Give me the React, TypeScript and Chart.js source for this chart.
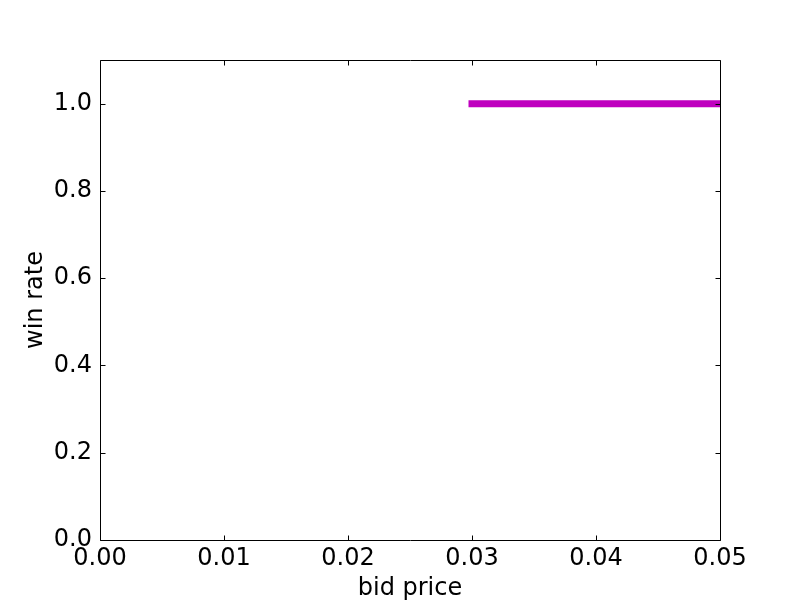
import React, { useEffect, useRef } from "react";
import { Chart, registerables } from "chart.js";

Chart.register(...registerables);

const xValues = [0.03, 0.05];
const yValues = [1.0, 1.0];
const xTicks = [0, 0.01, 0.02, 0.03, 0.04, 0.05];
const yTicks = [0, 0.2, 0.4, 0.6, 0.8, 1.0];
const xLabel = "bid price";
const yLabel = "win rate";

const FONT = "DejaVu Sans";

const framePlugin = {
  id: "frameTicks",
  afterDatasetsDraw(chart: any) {
    const { ctx, chartArea, scales } = chart;
    const { left, right, top, bottom } = chartArea;
    ctx.save();
    ctx.strokeStyle = "#000";
    ctx.lineWidth = 1;
    const L = Math.round(left) + 0.5;
    const R = Math.round(right) + 0.5;
    const T = Math.round(top) + 0.5;
    const B = Math.round(bottom) + 0.5;
    ctx.beginPath();
    const tl = 5;
    xTicks.forEach((v) => {
      const px = Math.round(scales.x.getPixelForValue(v)) + 0.5;
      ctx.moveTo(px, B);
      ctx.lineTo(px, B - tl);
      ctx.moveTo(px, T);
      ctx.lineTo(px, T + tl);
    });
    yTicks.forEach((v) => {
      const py = Math.round(scales.y.getPixelForValue(v)) + 0.5;
      ctx.moveTo(L, py);
      ctx.lineTo(L + tl, py);
      ctx.moveTo(R, py);
      ctx.lineTo(R - tl, py);
    });
    ctx.stroke();
    ctx.beginPath();
    ctx.rect(L, T, R - L, B - T);
    ctx.stroke();
    ctx.restore();
  },
};

export default function App() {
  const ref = useRef<HTMLCanvasElement>(null);
  useEffect(() => {
    if (!ref.current) return;
    const chart = new Chart(ref.current, {
      type: "line",
      data: {
        datasets: [
          {
            data: xValues.map((x, i) => ({ x, y: yValues[i] })),
            borderColor: "#bf00bf",
            backgroundColor: "#bf00bf",
            borderWidth: 7,
            borderCapStyle: "square",
            pointRadius: 0,
            fill: false,
            clip: 0,
          },
        ],
      },
      options: {
        animation: false,
        responsive: false,
        layout: { padding: { top: 60, right: 80, left: 0, bottom: 0 } },
        plugins: { legend: { display: false }, tooltip: { enabled: false } },
        scales: {
          x: {
            type: "linear",
            min: 0,
            max: 0.05,
            afterBuildTicks: (s: any) => {
              s.ticks = xTicks.map((v) => ({ value: v }));
            },
            afterFit: (s: any) => {
              s.height = 60;
            },
            grid: { display: false, drawTicks: false },
            border: { display: false },
            ticks: {
              color: "#000",
              padding: 4,
              maxRotation: 0,
              font: { family: FONT, size: 24 },
              callback: (v: any) => Number(v).toFixed(2),
            },
            title: {
              display: true,
              text: xLabel,
              color: "#000",
              font: { family: FONT, size: 24 },
              padding: { top: 0, bottom: -3 },
            },
          },
          y: {
            type: "linear",
            min: 0,
            max: 1.1,
            afterBuildTicks: (s: any) => {
              s.ticks = yTicks.map((v) => ({ value: v }));
            },
            afterFit: (s: any) => {
              s.width = 100;
            },
            grid: { display: false, drawTicks: false },
            border: { display: false },
            ticks: {
              color: "#000",
              padding: 8,
              font: { family: FONT, size: 24 },
              callback: (v: any) => Number(v).toFixed(1),
            },
            title: {
              display: true,
              text: yLabel,
              color: "#000",
              font: { family: FONT, size: 24 },
              padding: { top: 21, bottom: 0 },
            },
          },
        },
      },
      plugins: [framePlugin],
    } as any);
    return () => chart.destroy();
  }, []);
  return (
    <div style={{ position: "absolute", left: 0, top: 0, width: 800, height: 600, background: "#fff" }}>
      <canvas ref={ref} width={800} height={600} />
    </div>
  );
}
